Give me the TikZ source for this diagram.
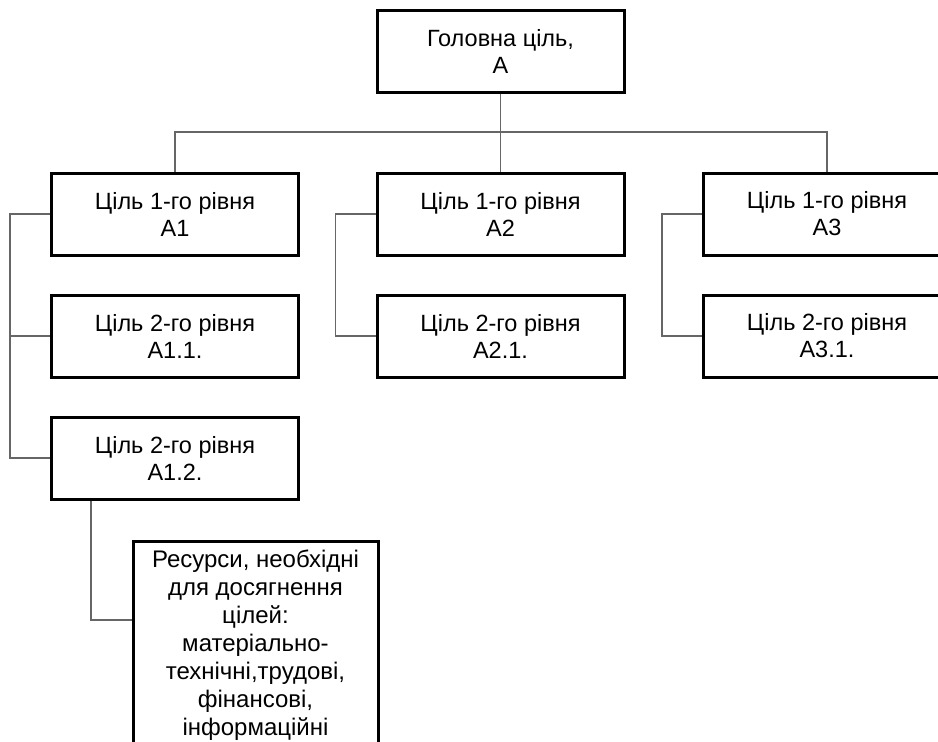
\documentclass[tikz,border=0pt]{standalone}
\usepackage{fontspec}
\setmainfont{Liberation Sans}
\usepackage{tikz}
\usetikzlibrary{positioning}

\begin{document}
\begin{tikzpicture}[x=1pt, y=-1pt,
        goal/.style={draw, rectangle, line width=3pt, minimum width=247pt, minimum height=82pt, align=center, font=\fontsize{23.5}{27}\selectfont},
        res/.style={draw, rectangle, line width=3pt, minimum width=245pt, inner ysep=8pt, align=center, anchor=north, font=\fontsize{24}{28}\selectfont},
        link/.style={black!60, line width=1.2pt}]
        
        \useasboundingbox (0,0) rectangle (938,742);
        
        \node[goal] (A) at (500.5,51) {Головна ціль,\\A};
        \node[goal] (A1) at (175,214) {Ціль 1-го рівня\\A1};
        \node[goal] (A2) at (500.5,214) {Ціль 1-го рівня\\A2};
        \node[goal] (A3) at (827,214) {Ціль 1-го рівня\\A3};
        \node[goal] (A11) at (175,336) {Ціль 2-го рівня\\A1.1.};
        \node[goal] (A12) at (175,458) {Ціль 2-го рівня\\A1.2.};
        \node[goal] (A21) at (500.5,336) {Ціль 2-го рівня\\A2.1.};
        \node[goal] (A31) at (827,336) {Ціль 2-го рівня\\A3.1.};
        \node[res] (R) at (255.5,540) {Ресурси, необхідні\\для досягнення\\цілей:\\матеріально-\\технічні,трудові,\\фінансові,\\інформаційні};
        
        \coordinate (bus) at (500.5,132);
        \draw[link] (A.south) -- (bus);
        \draw[link] (bus) -| (A1.north);
        \draw[link] (bus) -- (A2.north);
        \draw[link] (bus) -| (A3.north);
        
        \draw[link] (A1.west) -- ++(-40,0) |- (A11.west);
        \draw[link] (A1.west) -- ++(-40,0) |- (A12.west);
        \draw[link] (A2.west) -- ++(-40,0) |- (A21.west);
        \draw[link] (A3.west) -- ++(-40,0) |- (A31.west);
        \draw[link] ([xshift=41pt]A12.south west) |- ([yshift=-80pt]R.north west);
        
        \end{tikzpicture}
\end{document}
